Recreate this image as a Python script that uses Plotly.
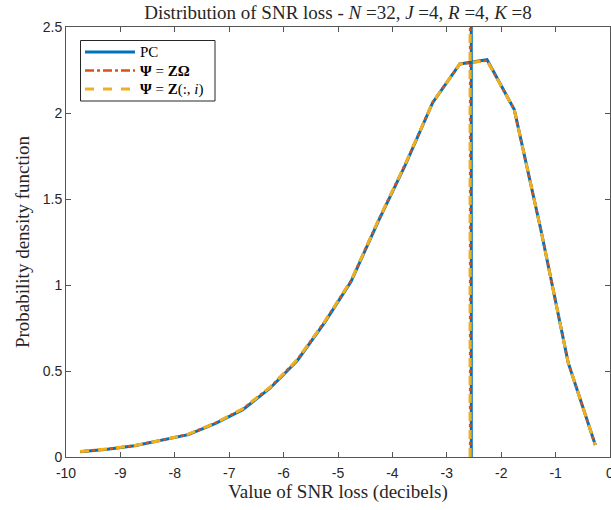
import plotly.graph_objects as go

# Bin centres (SNR loss, dB) and estimated PDF values
snr_loss_db = [-9.74, -9.24, -8.74, -8.25, -7.75, -7.25, -6.75, -6.25, -5.75, -5.25,
               -4.76, -4.26, -3.76, -3.26, -2.76, -2.26, -1.76, -1.27, -0.77, -0.27]
pdf_pc = [0.030, 0.045, 0.065, 0.095, 0.130, 0.195, 0.275, 0.400, 0.560, 0.780,
          1.020, 1.370, 1.700, 2.060, 2.285, 2.310, 2.020, 1.320, 0.550, 0.070]
pdf_zomega = [0.032, 0.047, 0.067, 0.097, 0.133, 0.198, 0.280, 0.405, 0.565, 0.785,
              1.025, 1.375, 1.705, 2.062, 2.285, 2.305, 2.020, 1.320, 0.550, 0.070]
pdf_zcol = [0.032, 0.047, 0.067, 0.097, 0.133, 0.198, 0.280, 0.405, 0.565, 0.785,
            1.025, 1.375, 1.705, 2.062, 2.285, 2.305, 2.020, 1.320, 0.550, 0.070]

# Mean SNR loss (vertical markers)
mean_pc = -2.55
mean_zomega = -2.57
mean_zcol = -2.57

# Tick labels
x_ticks = [-10, -9, -8, -7, -6, -5, -4, -3, -2, -1, 0]
x_tick_text = ["-10", "-9", "-8", "-7", "-6", "-5", "-4", "-3", "-2", "-1", "0"]
y_ticks = [0, 0.5, 1, 1.5, 2, 2.5]
y_tick_text = ["0", "0.5", "1", "1.5", "2", "2.5"]

names = ["PC", "<b>Ψ</b> = <b>ZΩ</b>", "<b>Ψ</b> = <b>Z</b>(:, <i>i</i>)"]
colors = ["#0072BD", "#D95319", "#EDB120"]
dashes = ["solid", "dashdot", "dash"]
widths = [3, 2.6, 3]
series = [pdf_pc, pdf_zomega, pdf_zcol]
means = [mean_pc, mean_zomega, mean_zcol]

y_max = 2.5

W, H = 611, 510
ML, MR, MT, MB = 66, 1, 27, 53
PW, PH = W - ML - MR, H - MT - MB


def px_x(px):
    return (px - ML) / PW


def px_y(py):
    return (H - MB - py) / PH


fig = go.Figure()
for nm, col, ds, w, ys in zip(names, colors, dashes, widths, series):
    fig.add_trace(go.Scatter(x=snr_loss_db, y=ys, mode="lines", name=nm, showlegend=False,
                             line=dict(color=col, dash=ds, width=w)))
for col, ds, w, m in zip(colors, dashes, widths, means):
    fig.add_trace(go.Scatter(x=[m, m], y=[0, y_max], mode="lines", showlegend=False,
                             line=dict(color=col, dash=ds, width=w), hoverinfo="skip"))

serif = "Liberation Serif, Times New Roman, serif"

# Custom legend (MATLAB style: long line samples)
shapes = [dict(type="rect", xref="paper", yref="paper",
               x0=px_x(80.5), x1=px_x(215), y0=px_y(101), y1=px_y(40.5),
               fillcolor="white", line=dict(color="#262626", width=1), layer="above")]
annotations = []
rows = [52, 70.5, 89]
for nm, col, ds, w, ry in zip(names, colors, dashes, widths, rows):
    shapes.append(dict(type="line", xref="paper", yref="paper",
                       x0=px_x(85), x1=px_x(135), y0=px_y(ry), y1=px_y(ry),
                       line=dict(color=col, dash=ds, width=w), layer="above"))
    annotations.append(dict(text=nm, xref="paper", yref="paper", x=px_x(138), y=px_y(ry),
                            xanchor="left", yanchor="middle", showarrow=False,
                            font=dict(family=serif, size=15, color="#000000")))

axis_common = dict(showline=True, linecolor="#555555", linewidth=1, mirror="ticks",
                   ticks="inside", ticklen=5, tickcolor="#555555", showgrid=False,
                   zeroline=False, automargin=False, ticklabeloverflow="allow",
                   tickfont=dict(family="Liberation Sans, Arial", size=14, color="#262626"))

fig.update_layout(
    width=W, height=H, autosize=False,
    margin=dict(l=ML, r=MR, t=MT, b=MB),
    paper_bgcolor="white", plot_bgcolor="white",
    title=dict(text="Distribution of SNR loss - <i>N</i> =32, <i>J</i> =4, <i>R</i> =4, <i>K</i> =8",
               x=0.5, xref="paper", xanchor="center",
               y=1 - 12 / H, yref="container", yanchor="middle",
               font=dict(family=serif, size=19, color="#262626"), automargin=False),
    xaxis=dict(range=[-10, 0], tickvals=x_ticks, ticktext=x_tick_text, ticklabelstandoff=3,
               title=dict(text="Value of SNR loss (decibels)", standoff=2,
                          font=dict(family=serif, size=19, color="#262626")),
               **axis_common),
    yaxis=dict(range=[0, y_max], tickvals=y_ticks, ticktext=y_tick_text,
               title=dict(text="Probability density function", standoff=8,
                          font=dict(family=serif, size=19, color="#262626")),
               **axis_common),
    shapes=shapes,
    annotations=annotations,
    showlegend=False,
)

post = ("document.body.style.margin='0';document.body.style.padding='0';"
        "document.body.style.overflow='hidden';"
        "Plotly.Plots.resize(document.getElementById('{plot_id}'));")
fig.write_html("out.html", post_script=post, default_width="611px", default_height="510px",
               config={"responsive": False, "displayModeBar": False})
